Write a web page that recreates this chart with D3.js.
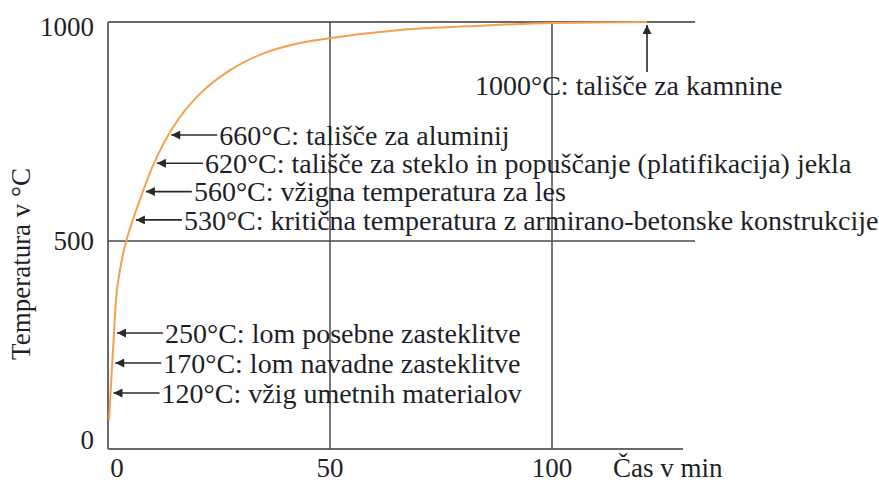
<!DOCTYPE html>
<html>
<head>
<meta charset="utf-8">
<script src="https://cdn.jsdelivr.net/npm/d3@7"></script>
<style>
  html, body { margin: 0; padding: 0; background: #fff; }
  svg text { font-family: "Liberation Serif", "Times New Roman", serif; fill: #1f1f29; }
</style>
</head>
<body>
<svg id="chart" width="879" height="483"></svg>
<script>
// Heating curve: time in minutes vs. temperature in °C
const timeMin = [0.23, 0.9, 1.35, 1.8, 2.7, 4.3, 5.6, 7.4, 9.9, 12.8, 16.2, 20.7, 27.5, 34.2, 43.2, 49.8, 65.8, 82.7, 100, 121.4];
const tempC   = [70, 197, 279, 358, 430, 507, 548, 600, 667, 728, 783, 836, 890, 925, 952, 963, 982, 991, 998, 1000];

// Axis ticks
const xTicks = [0, 50, 100];
const yTicks = [0, 500, 1000];

// Threshold annotations (upper group, lower group)
const upperTemps  = [660, 620, 560, 530];
const upperLabels = [
  "660°C: tališče za aluminij",
  "620°C: tališče za steklo in popuščanje (platifikacija) jekla",
  "560°C: vžigna temperatura za les",
  "530°C: kritična temperatura z armirano-betonske konstrukcije"
];
const lowerTemps  = [250, 170, 120];
const lowerLabels = [
  "250°C: lom posebne zasteklitve",
  "170°C: lom navadne zasteklitve",
  "120°C: vžig umetnih materialov"
];
const topTemp  = 1000;
const topLabel = "1000°C: tališče za kamnine";

const xTitle = "Čas v min";
const yTitle = "Temperatura v °C";

const svg = d3.select("#chart");

const x = d3.scaleLinear().domain([0, 100]).range([108, 552]);
const y = d3.scaleLinear().domain([0, 500, 1000]).range([449, 241, 22]);

const gridColor = "#4a4a4a";
const axisColor = "#6a6a6a";

// Frame lines
const xEnd = 683, gridEnd = 695;
svg.append("line").attr("x1", x(0)).attr("x2", xEnd).attr("y1", y(0)).attr("y2", y(0))
  .attr("stroke", axisColor).attr("stroke-width", 2);
svg.append("line").attr("x1", x(0)).attr("x2", x(0)).attr("y1", y(0)).attr("y2", y(1000))
  .attr("stroke", axisColor).attr("stroke-width", 2);

// Horizontal reference lines at 500 and 1000
svg.selectAll("line.hgrid").data(yTicks.filter(d => d > 0)).join("line")
  .attr("class", "hgrid")
  .attr("x1", x(0)).attr("x2", gridEnd)
  .attr("y1", d => y(d)).attr("y2", d => y(d))
  .attr("stroke", d => d === 1000 ? axisColor : gridColor)
  .attr("stroke-width", d => d === 1000 ? 2 : 1.5);

// Vertical reference lines at 50 and 100
svg.selectAll("line.vgrid").data(xTicks.filter(d => d > 0)).join("line")
  .attr("class", "vgrid")
  .attr("x1", d => x(d)).attr("x2", d => x(d))
  .attr("y1", y(0)).attr("y2", y(1000))
  .attr("stroke", gridColor).attr("stroke-width", 1.5);

// Tick labels
svg.selectAll("text.ytick").data(yTicks).join("text")
  .attr("class", "ytick")
  .attr("x", 94).attr("text-anchor", "end")
  .attr("y", d => d === 0 ? y(d) - 9 : (d === 1000 ? y(d) + 5 : y(d)))
  .attr("dy", "0.35em")
  .style("font-size", "27px")
  .text(d => d);

svg.selectAll("text.xtick").data(xTicks).join("text")
  .attr("class", "xtick")
  .attr("x", d => d === 0 ? x(d) + 9 : x(d))
  .attr("y", 477).attr("text-anchor", "middle")
  .style("font-size", "27px")
  .text(d => d);

svg.append("text").attr("x", 613).attr("y", 477)
  .style("font-size", "27px").text(xTitle);

svg.append("text")
  .attr("transform", "translate(30,264) rotate(-90)")
  .attr("text-anchor", "middle")
  .style("font-size", "27px")
  .text(yTitle);

// Heating curve
const pts = timeMin.map((t, i) => [t, tempC[i]]);
const line = d3.line().x(d => x(d[0])).y(d => y(d[1])).curve(d3.curveMonotoneX);
const curvePath = svg.append("path").datum(pts)
  .attr("d", line)
  .attr("fill", "none")
  .attr("stroke", "#f5a04c")
  .attr("stroke-width", 2);

// Horizontal position of the curve at a given pixel height
const node = curvePath.node();
const total = node.getTotalLength();
function curveXAt(py) {
  let lo = 0, hi = total;
  for (let k = 0; k < 40; k++) {
    const mid = (lo + hi) / 2;
    if (node.getPointAtLength(mid).y > py) lo = mid; else hi = mid;
  }
  return node.getPointAtLength((lo + hi) / 2).x;
}

// Arrow marker
const defs = svg.append("defs");
defs.append("marker").attr("id", "head")
  .attr("viewBox", "0 0 10 10").attr("refX", 10).attr("refY", 5)
  .attr("markerWidth", 11).attr("markerHeight", 9)
  .attr("markerUnits", "userSpaceOnUse")
  .attr("orient", "auto")
  .append("path").attr("d", "M0,0 L10,5 L0,10 Z").attr("fill", "#2a2a2a");

function annotate(rows, startY, step) {
  rows.forEach((label, i) => {
    const py = startY + i * step;
    const tip = curveXAt(py) + 3;
    svg.append("line")
      .attr("x1", tip + 46).attr("x2", tip).attr("y1", py).attr("y2", py)
      .attr("stroke", "#2a2a2a").attr("stroke-width", 1.6)
      .attr("marker-end", "url(#head)");
    svg.append("text")
      .attr("x", tip + 48).attr("y", py).attr("dy", "0.35em")
      .style("font-size", "28px")
      .text(label);
  });
}
annotate(upperLabels, 135, 28.3);
annotate(lowerLabels, 333, 30);

// Top annotation with a vertical arrow to the 1000°C plateau
const topX = x(timeMin[timeMin.length - 1]);
svg.append("line")
  .attr("x1", topX).attr("x2", topX).attr("y1", 72).attr("y2", y(topTemp) + 3)
  .attr("stroke", "#2a2a2a").attr("stroke-width", 1.6)
  .attr("marker-end", "url(#head)");
svg.append("text").attr("x", 475).attr("y", 85).attr("dy", "0.35em")
  .style("font-size", "28px").text(topLabel);
</script>
</body>
</html>
